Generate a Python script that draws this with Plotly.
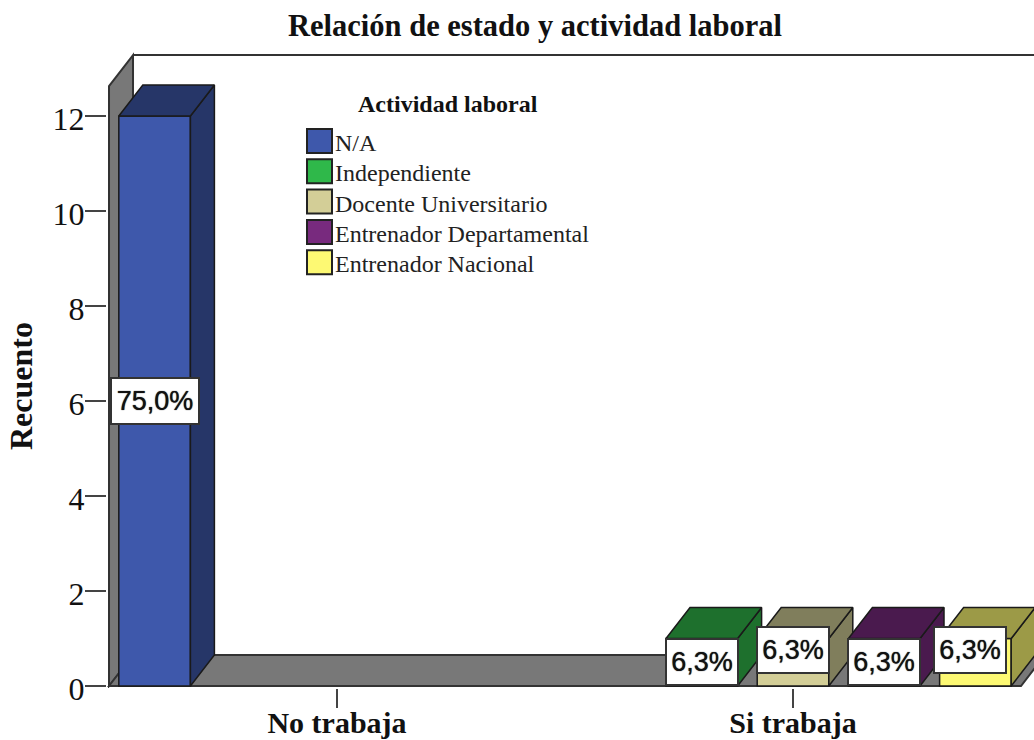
"""Relacion de estado y actividad laboral - 3D look clustered bars."""
import plotly.graph_objects as go

CATEGORIES = ["No trabaja", "Si trabaja"]
SERIES = ["N/A", "Independiente", "Docente Universitario",
          "Entrenador Departamental", "Entrenador Nacional"]
COUNTS = [
    [12, 0],
    [0, 1],
    [0, 1],
    [0, 1],
    [0, 1],
]
PERCENT_LABELS = [
    ["75,0%", ""],
    ["", "6,3%"],
    ["", "6,3%"],
    ["", "6,3%"],
    ["", "6,3%"],
]
Y_TICKS = [0, 2, 4, 6, 8, 10, 12]

FRONT_COLORS = ["#3e58ab", "#2fb84a", "#d3ce97", "#782a7e", "#fdf973"]
DARK_COLORS = ["#263668", "#1e702d", "#807e5c", "#4a1a4e", "#9c9a47"]
WALL_COLOR = "#787878"
EDGE_COLOR = "#1a1a1a"

SERIF = "Liberation Serif"
SANS = "Liberation Sans"

# pixel scale of the axes in the 1034x740 canvas
PX_PER_CATEGORY = 456
PX_PER_COUNT = 47.5
MARGIN = dict(l=107, r=0, t=52, b=52, pad=0)
PLOT_W = 1034 - MARGIN["l"]
PLOT_H = 740 - MARGIN["t"] - MARGIN["b"]

X_RANGE = [-0.5044, 1.5285]
Y_RANGE = [-0.042, 13.347]
DEPTH_X = 24 / PX_PER_CATEGORY
DEPTH_Y = 31 / PX_PER_COUNT
SLOT = 0.2
BAR_WIDTH = 0.157
WALL_TOP = 12.63


def paper_x(px):
    return (px - MARGIN["l"]) / PLOT_W


def paper_y(py):
    return (740 - MARGIN["b"] - py) / PLOT_H


fig = go.Figure()

for s, name in enumerate(SERIES):
    for c, category in enumerate(CATEGORIES):
        count = COUNTS[s][c]
        if count == 0:
            continue
        center = c + (s - 2) * SLOT
        left = center - BAR_WIDTH / 2
        right = center + BAR_WIDTH / 2
        fig.add_trace(go.Bar(
            x=[center], y=[count], width=[BAR_WIDTH], name=name,
            marker=dict(color=FRONT_COLORS[s], line=dict(color=EDGE_COLOR, width=1.5)),
            showlegend=False, hoverinfo="skip",
        ))
        # side face
        fig.add_trace(go.Scatter(
            x=[right, right + DEPTH_X, right + DEPTH_X, right, right],
            y=[0, DEPTH_Y, count + DEPTH_Y, count, 0],
            mode="lines", fill="toself", fillcolor=DARK_COLORS[s],
            line=dict(color=EDGE_COLOR, width=1.5),
            showlegend=False, hoverinfo="skip",
        ))
        # top face
        fig.add_trace(go.Scatter(
            x=[left, left + DEPTH_X, right + DEPTH_X, right, left],
            y=[count, count + DEPTH_Y, count + DEPTH_Y, count, count],
            mode="lines", fill="toself", fillcolor=DARK_COLORS[s],
            line=dict(color=EDGE_COLOR, width=1.5),
            showlegend=False, hoverinfo="skip",
        ))

# box walls, below the bars
left_x = -0.5
right_x = 1.5
wall_line = dict(color="#333333", width=2)
fig.add_shape(
    type="path", layer="below", xref="x", yref="y",
    path=f"M {left_x} 0 L {left_x} {WALL_TOP} L {left_x + DEPTH_X} {WALL_TOP + DEPTH_Y} "
         f"L {left_x + DEPTH_X} {DEPTH_Y} Z",
    fillcolor=WALL_COLOR, line=wall_line,
)
fig.add_shape(
    type="path", layer="below", xref="x", yref="y",
    path=f"M {left_x} 0 L {left_x + DEPTH_X} {DEPTH_Y} L {right_x + DEPTH_X} {DEPTH_Y} "
         f"L {right_x} 0 Z",
    fillcolor=WALL_COLOR, line=wall_line,
)
fig.add_shape(
    type="line", layer="below", xref="x", yref="y",
    x0=left_x + DEPTH_X, x1=X_RANGE[1], y0=WALL_TOP + DEPTH_Y, y1=WALL_TOP + DEPTH_Y,
    line=wall_line,
)

# percent labels; SPSS staggers the neighbours so they do not collide
annotations = []
for s in range(len(SERIES)):
    for c in range(len(CATEGORIES)):
        if not PERCENT_LABELS[s][c]:
            continue
        staggered = c == 1 and s % 2 == 0
        annotations.append(dict(
            x=c + (s - 2) * SLOT, y=COUNTS[s][c] / 2, xref="x", yref="y",
            xanchor="center", yanchor="middle",
            text=PERCENT_LABELS[s][c], showarrow=False,
            # regular weight plus a tight shadow reads as the reference's semi-bold
            font=dict(family=SANS, size=27, color="#111111", shadow="0 0 1px #111111"),
            bgcolor="white", bordercolor="#333333", borderwidth=2,
            width=68 if c == 1 else 84, height=42,
            yshift=12 if staggered else 0,
            xshift=-5 if s == 4 else 0,
        ))

# legend drawn by hand: plotly swatches cannot be this large
annotations.append(dict(
    x=paper_x(448), y=paper_y(104), xref="paper", yref="paper", showarrow=False,
    xanchor="center", yanchor="middle",
    text="Actividad laboral", font=dict(family=SERIF, size=24, color="#111111", weight="bold"),
))
for i, name in enumerate(SERIES):
    top = 129 + i * 30.3
    fig.add_shape(
        type="rect", xref="paper", yref="paper",
        x0=paper_x(307), x1=paper_x(332), y0=paper_y(top), y1=paper_y(top + 24),
        fillcolor=FRONT_COLORS[i], line=dict(color="#222222", width=2),
    )
    annotations.append(dict(
        x=paper_x(333), y=paper_y(top + 14), xref="paper", yref="paper", showarrow=False,
        xanchor="left", yanchor="middle",
        text=name, font=dict(family=SERIF, size=24, color="#222222"),
    ))

annotations.append(dict(
    x=paper_x(21), y=paper_y(386), xref="paper", yref="paper", showarrow=False,
    xanchor="center", yanchor="middle",
    text="Recuento", textangle=-90,
    font=dict(family=SERIF, size=32, color="#111111", weight="bold"),
))

fig.update_layout(
    width=1034, height=740, margin=MARGIN,
    paper_bgcolor="white", plot_bgcolor="white",
    barmode="overlay", showlegend=False,
    title=dict(
        text="Relación de estado y actividad laboral",
        x=535 / 1034, xanchor="center", y=1 - 25 / 740, yanchor="middle",
        font=dict(family=SERIF, size=30.5, color="#111111", weight="bold"),
    ),
    xaxis=dict(
        range=X_RANGE, tickmode="array", tickvals=list(range(len(CATEGORIES))),
        ticktext=CATEGORIES, ticks="outside", ticklen=19, tickwidth=2, tickcolor="#444444",
        showgrid=False, zeroline=False, showline=False, tickangle=0, automargin=False,
        ticklabelstandoff=-11,
        tickfont=dict(family=SERIF, size=30, color="#111111", weight="bold"),
    ),
    yaxis=dict(
        range=Y_RANGE, tickmode="array", tickvals=Y_TICKS,
        ticks="outside", ticklen=21, tickwidth=2, tickcolor="#444444",
        showgrid=False, zeroline=False, showline=False, automargin=False,
        ticklabelstandoff=-6, ticklabelshift=3,
        tickfont=dict(family=SERIF, size=32, color="#111111"),
    ),
    annotations=annotations,
)

# the page's default 8px body margin would push the 1034x740 figure off the window
fig.write_html("out.html", config={"displayModeBar": False},
               post_script="document.body.style.margin = '0';")
